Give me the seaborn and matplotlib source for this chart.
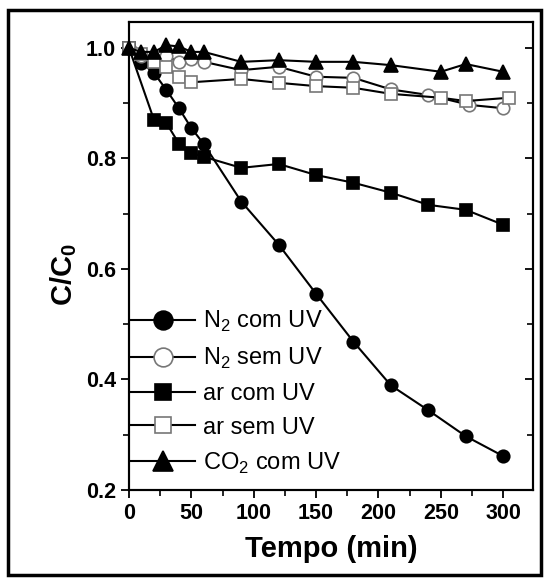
import numpy as np
import pandas as pd
import matplotlib
matplotlib.use('Agg')
import matplotlib.pyplot as plt
from matplotlib.patches import Rectangle
from matplotlib.ticker import MultipleLocator, FormatStrFormatter
import seaborn as sns

# ── Data (time in min, C/C0) ────────────────────────────────────────────────
T_N2_UV   = [0, 10, 20, 30, 40, 50, 60, 90, 120, 150, 180, 210, 240, 270, 300]
C_N2_UV   = [1.0, 0.973, 0.955, 0.924, 0.891, 0.855, 0.826, 0.722, 0.644,
             0.555, 0.468, 0.389, 0.344, 0.297, 0.261]

T_N2_SEM  = [0, 10, 20, 30, 40, 50, 60, 90, 120, 150, 180, 210, 240, 273, 300]
C_N2_SEM  = [1.0, 0.985, 0.980, 0.985, 0.975, 0.980, 0.975, 0.960, 0.966,
             0.948, 0.946, 0.925, 0.915, 0.897, 0.891]

T_AR_UV   = [0, 20, 30, 40, 50, 60, 90, 120, 150, 180, 210, 240, 270, 300]
C_AR_UV   = [1.0, 0.870, 0.864, 0.827, 0.810, 0.803, 0.783, 0.790, 0.770,
             0.756, 0.738, 0.716, 0.707, 0.680]

T_AR_SEM  = [0, 10, 20, 30, 40, 50, 90, 120, 150, 180, 210, 250, 270, 305]
C_AR_SEM  = [1.0, 0.990, 0.975, 0.965, 0.947, 0.938, 0.944, 0.937, 0.931,
             0.928, 0.917, 0.910, 0.904, 0.910]

T_CO2_UV  = [0, 10, 20, 30, 40, 50, 60, 90, 120, 150, 180, 210, 250, 270, 300]
C_CO2_UV  = [1.0, 0.993, 0.993, 1.005, 1.003, 0.993, 0.993, 0.975, 0.978,
             0.975, 0.975, 0.969, 0.957, 0.971, 0.957]

LABELS = ['N$_2$ com UV', 'N$_2$ sem UV', 'ar com UV', 'ar sem UV', 'CO$_2$ com UV']

plt.rcParams['font.family'] = ['Liberation Sans', 'DejaVu Sans']
plt.rcParams['mathtext.fontset'] = 'custom'
plt.rcParams['mathtext.rm'] = 'Liberation Sans'
plt.rcParams['mathtext.bf'] = 'Liberation Sans:bold'

fig = plt.figure(figsize=(5.49, 5.81), dpi=100)
ax = fig.add_axes([0.235, 0.157, 0.736, 0.805])

series = [
    (T_N2_UV, C_N2_UV, 'o', 'black', 'black', 9),
    (T_N2_SEM, C_N2_SEM, 'o', 'white', '#777777', 9),
    (T_AR_UV, C_AR_UV, 's', 'black', 'black', 8),
    (T_AR_SEM, C_AR_SEM, 's', 'white', '#777777', 8),
    (T_CO2_UV, C_CO2_UV, '^', 'black', 'black', 9.5),
]

for (t, c, mk, fc, ec, ms), lab in zip(series, LABELS):
    df = pd.DataFrame({'t': t, 'c': c})
    sns.lineplot(data=df, x='t', y='c', ax=ax, color='black', lw=1.5,
                 marker=mk, markersize=ms, markerfacecolor=fc,
                 markeredgecolor=ec, markeredgewidth=1.2,
                 sort=False, estimator=None, label=lab, clip_on=False)

ax.set_xlim(0, 324)
ax.set_ylim(0.2, 1.047)
ax.xaxis.set_major_locator(MultipleLocator(50))
ax.xaxis.set_minor_locator(MultipleLocator(25))
ax.yaxis.set_major_locator(MultipleLocator(0.2))
ax.yaxis.set_minor_locator(MultipleLocator(0.1))
ax.yaxis.set_major_formatter(FormatStrFormatter('%.1f'))

ax.tick_params(axis='both', which='major', direction='out', length=6, width=1.3,
               labelsize=15.5)
ax.tick_params(axis='both', which='minor', direction='out', length=4, width=1.2)
for lbl in ax.get_xticklabels() + ax.get_yticklabels():
    lbl.set_fontweight('bold')

# right spine with inward ticks, no labels
axr = ax.twinx()
axr.set_ylim(ax.get_ylim())
axr.yaxis.set_major_locator(MultipleLocator(0.2))
axr.yaxis.set_minor_locator(MultipleLocator(0.1))
axr.tick_params(axis='y', which='major', direction='in', length=6, width=1.3, labelright=False)
axr.tick_params(axis='y', which='minor', direction='in', length=4, width=1.2)

for a in (ax, axr):
    for s in a.spines.values():
        s.set_linewidth(1.5)

ax.set_xlabel('Tempo (min)', fontsize=21, fontweight='bold', labelpad=8)
ax.set_ylabel(r'C/C$_\mathbf{0}$', fontsize=21, fontweight='bold')
ax.yaxis.set_label_coords(-0.125, 0.46)

leg = ax.legend(loc='lower left', frameon=False, fontsize=17, handlelength=2.7,
                handletextpad=0.35, labelspacing=0.5, markerscale=1.5,
                borderaxespad=0.0, borderpad=0.3, bbox_to_anchor=(-0.012, 0.015))

# outer frame around the whole picture
fig.patches.append(Rectangle((0.014, 0.01), 0.972, 0.972, transform=fig.transFigure,
                             fill=False, edgecolor='black', linewidth=2.5))

fig.savefig('out.png', dpi=100)
